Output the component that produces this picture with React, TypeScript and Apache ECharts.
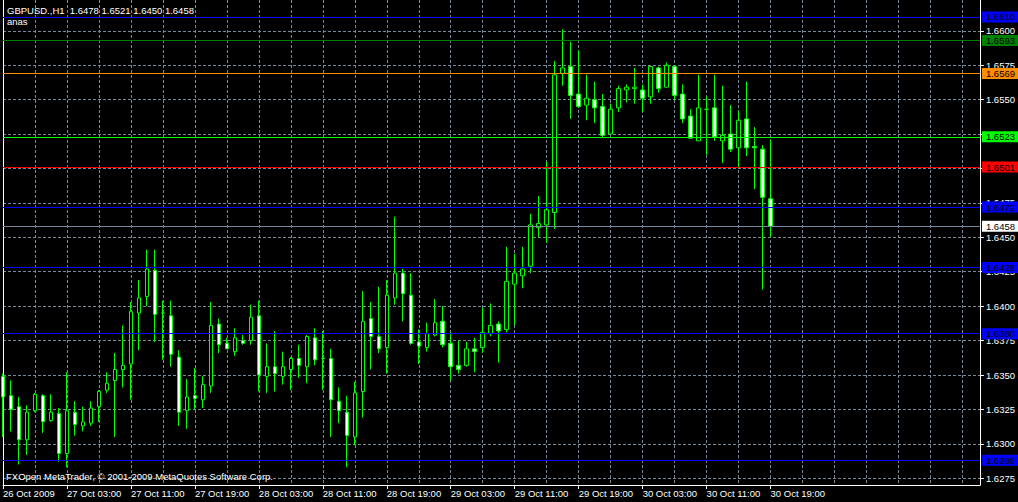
import React, { useEffect, useRef } from "react";
import * as echarts from "echarts";

// ---- data (GBPUSD H1, 26 Oct 2009 19:00 .. 30 Oct 2009 19:00) ----
const opens = [
  1.6349, 1.6335, 1.6327, 1.6303, 1.6324, 1.6335, 1.6317, 1.6322, 1.6293, 1.6323,
  1.6313, 1.6315, 1.6327, 1.6339, 1.6346, 1.6354, 1.6358, 1.6395, 1.6407, 1.6426,
  1.6395, 1.6393, 1.6363, 1.6324, 1.6335, 1.6332, 1.6342, 1.6387, 1.6373, 1.6367,
  1.6375, 1.6375, 1.6393, 1.6349, 1.6356, 1.6349, 1.6354, 1.6362, 1.6356, 1.6377,
  1.6362, 1.6362, 1.6331, 1.6323, 1.6305, 1.6338, 1.6391, 1.6378, 1.6370, 1.6406,
  1.6424, 1.6408, 1.6374, 1.6370, 1.6379, 1.6389, 1.6373, 1.6357, 1.6357, 1.6369,
  1.6370, 1.6380, 1.6387, 1.6383, 1.6416, 1.6422, 1.6429, 1.6457, 1.6459, 1.6468,
  1.6569, 1.6574, 1.6554, 1.6546, 1.6550, 1.6545, 1.6525, 1.6544, 1.6557, 1.6558,
  1.6557, 1.6552, 1.6573, 1.6559, 1.6574, 1.6554, 1.6538, 1.6520, 1.6543, 1.6544,
  1.6520, 1.6525, 1.6515, 1.6536, 1.6516, 1.6514, 1.6478,
];
const highs = [
  1.6351, 1.6346, 1.6334, 1.6328, 1.6337, 1.6336, 1.6336, 1.6326, 1.6352, 1.6331,
  1.6327, 1.6331, 1.6339, 1.6352, 1.6366, 1.6386, 1.6403, 1.6419, 1.6441, 1.6441,
  1.6404, 1.6404, 1.6368, 1.6347, 1.6355, 1.6349, 1.6403, 1.6391, 1.6377, 1.6384,
  1.6379, 1.6401, 1.6404, 1.6373, 1.6382, 1.6367, 1.6363, 1.6372, 1.6379, 1.6384,
  1.6382, 1.6369, 1.6341, 1.6335, 1.6345, 1.6411, 1.6403, 1.6414, 1.6419, 1.6465,
  1.6427, 1.6424, 1.6383, 1.6388, 1.6405, 1.6400, 1.6381, 1.6375, 1.6374, 1.6377,
  1.6399, 1.6402, 1.6389, 1.6443, 1.6438, 1.6443, 1.6467, 1.6480, 1.6505, 1.6578,
  1.6601, 1.6592, 1.6586, 1.6568, 1.6563, 1.6554, 1.6547, 1.6560, 1.6561, 1.6573,
  1.6561, 1.6574, 1.6574, 1.6577, 1.6575, 1.6561, 1.6543, 1.6568, 1.6552, 1.6568,
  1.6560, 1.6546, 1.6542, 1.6563, 1.6530, 1.6517, 1.6521,
];
const lows = [
  1.6305, 1.6309, 1.6285, 1.6292, 1.6323, 1.6308, 1.6316, 1.6287, 1.6283, 1.6306,
  1.6309, 1.6313, 1.6316, 1.6337, 1.6305, 1.6341, 1.6332, 1.6368, 1.6400, 1.6374,
  1.6361, 1.6356, 1.6313, 1.6311, 1.6325, 1.6326, 1.6337, 1.6366, 1.6369, 1.6364,
  1.6372, 1.6372, 1.6338, 1.6337, 1.6338, 1.6343, 1.6339, 1.6348, 1.6344, 1.6357,
  1.6339, 1.6305, 1.6315, 1.6283, 1.6299, 1.6319, 1.6354, 1.6366, 1.6351, 1.6401,
  1.6389, 1.6372, 1.6358, 1.6367, 1.6378, 1.6370, 1.6346, 1.6351, 1.6356, 1.6352,
  1.6366, 1.6378, 1.6359, 1.6381, 1.6386, 1.6413, 1.6424, 1.6450, 1.6446, 1.6456,
  1.6560, 1.6536, 1.6544, 1.6535, 1.6533, 1.6522, 1.6525, 1.6541, 1.6548, 1.6547,
  1.6541, 1.6547, 1.6555, 1.6559, 1.6550, 1.6533, 1.6522, 1.6520, 1.6510, 1.6520,
  1.6504, 1.6512, 1.6501, 1.6509, 1.6485, 1.6412, 1.6450,
];
const closes = [
  1.6334, 1.6325, 1.6303, 1.6323, 1.6336, 1.6316, 1.6323, 1.6293, 1.6324, 1.6314,
  1.6316, 1.6326, 1.6338, 1.6344, 1.6354, 1.6357, 1.6396, 1.6406, 1.6427, 1.6394,
  1.6395, 1.6365, 1.6323, 1.6334, 1.6333, 1.6343, 1.6386, 1.6372, 1.6369, 1.6377,
  1.6373, 1.6392, 1.6350, 1.6356, 1.6351, 1.6356, 1.6362, 1.6357, 1.6378, 1.6361,
  1.6362, 1.6332, 1.6324, 1.6306, 1.6337, 1.6389, 1.6378, 1.6369, 1.6408, 1.6424,
  1.6409, 1.6373, 1.6371, 1.6380, 1.6388, 1.6372, 1.6356, 1.6354, 1.6369, 1.6367,
  1.6381, 1.6386, 1.6382, 1.6418, 1.6424, 1.6427, 1.6459, 1.6460, 1.6470, 1.6568,
  1.6573, 1.6553, 1.6545, 1.6551, 1.6544, 1.6524, 1.6543, 1.6558, 1.6559, 1.6559,
  1.6551, 1.6574, 1.6558, 1.6575, 1.6553, 1.6536, 1.6522, 1.6544, 1.6543, 1.6523,
  1.6524, 1.6514, 1.6535, 1.6515, 1.6515, 1.6479, 1.6458,
];

const xTickIndex = [0, 8, 16, 24, 32, 40, 48, 56, 64, 72, 80, 88, 96];
const xTickLabels = [
  "26 Oct 2009", "27 Oct 03:00", "27 Oct 11:00", "27 Oct 19:00", "28 Oct 03:00",
  "28 Oct 11:00", "28 Oct 19:00", "29 Oct 03:00", "29 Oct 11:00", "29 Oct 19:00",
  "30 Oct 03:00", "30 Oct 11:00", "30 Oct 19:00",
];
const yTicks = [
  1.6275, 1.63, 1.6325, 1.635, 1.6375, 1.64, 1.6425, 1.645, 1.6475, 1.65,
  1.6525, 1.655, 1.6575, 1.66,
];

const levelPrices = [1.661, 1.6593, 1.6569, 1.6523, 1.6501, 1.6472, 1.6458, 1.6428, 1.638, 1.6288];
const levelColors = ["#0000ff", "#008000", "#ff8c00", "#00ff00", "#ff0000", "#0000ff", "#778899", "#0000ff", "#0000ff", "#0000ff"];
const levelBoxColors = ["#0000ff", "#008000", "#ff8c00", "#00ff00", "#ff0000", "#0000ff", "#ffffff", "#0000ff", "#0000ff", "#0000ff"];

const symbolName = "GBPUSD.,H1";
const indicatorName = "anas";
const copyright = "FXOpen MetaTrader, © 2001-2009 MetaQuotes Software Corp.";

const FONT = "'Liberation Sans', Arial, sans-serif";
const FS = 9.5;

export default function App() {
  const ref = useRef<HTMLDivElement>(null);

  useEffect(() => {
    if (!ref.current) return;
    const chart = echarts.init(ref.current, undefined, { renderer: "svg" });
    const last = opens.length - 1;
    const header =
      `${symbolName}  ${opens[last].toFixed(4)} ${highs[last].toFixed(4)} ` +
      `${lows[last].toFixed(4)} ${closes[last].toFixed(4)}`;
    const data = opens.map((o, i) => [i, o, closes[i], lows[i], highs[i]]);
    const XMAX = (980.5 - 3) / 8;
    const YMAX = 1.645 + 237.3 / 13770;
    const YMIN = 1.645 - 247.7 / 13770;
    const grid = { color: "#778899", type: [3, 2] as any, width: 1 };
    const txt = { color: "#ffffff", fontSize: FS, fontFamily: FONT, fontWeight: "normal" as const };

    chart.setOption({
      animation: false,
      backgroundColor: "#000000",
      textStyle: { fontFamily: FONT },
      title: [
        { text: header, left: 7, top: 5, padding: 0, textStyle: txt },
        { text: indicatorName, left: 7, top: 16, padding: 0, textStyle: txt },
        { text: copyright, left: 6, top: 471, padding: 0, textStyle: txt },
      ],
      grid: { left: 3, right: 37.5, top: 0, bottom: 17, containLabel: false },
      xAxis: [
        {
          type: "value",
          min: 0,
          max: XMAX,
          interval: 4,
          position: "bottom",
          axisLine: { show: true, onZero: false, lineStyle: { color: "#ffffff", width: 1 } },
          axisTick: { show: false },
          axisLabel: { show: false },
          splitLine: { show: true, lineStyle: grid },
        },
        {
          type: "value",
          min: 0,
          max: XMAX,
          position: "bottom",
          axisLine: { show: false, onZero: false },
          axisTick: {
            show: true,
            length: 4,
            customValues: xTickIndex,
            lineStyle: { color: "#ffffff" },
          },
          axisLabel: {
            show: true,
            customValues: xTickIndex,
            formatter: (v: number) => {
              const k = xTickIndex.indexOf(Math.round(v));
              return k >= 0 ? xTickLabels[k] : "";
            },
            align: "left",
            margin: 3,
            ...txt,
          },
          splitLine: { show: false },
        },
      ],
      yAxis: [
        {
          type: "value",
          position: "right",
          min: YMIN,
          max: YMAX,
          axisLine: { show: true, onZero: false, lineStyle: { color: "#ffffff", width: 1 } },
          axisTick: { show: true, length: 4, customValues: yTicks, lineStyle: { color: "#ffffff" } },
          axisLabel: {
            show: true,
            customValues: yTicks,
            formatter: (v: number) => v.toFixed(4),
            margin: 6,
            ...txt,
          },
          splitLine: { show: true, lineStyle: grid },
        },
        {
          type: "value",
          position: "left",
          min: YMIN,
          max: YMAX,
          axisLine: { show: true, onZero: false, lineStyle: { color: "#ffffff", width: 1 } },
          axisTick: { show: false },
          axisLabel: { show: false },
          splitLine: { show: false },
        },
      ],
      series: [
        {
          type: "candlestick",
          xAxisIndex: 0,
          yAxisIndex: 0,
          data,
          encode: { x: 0, y: [1, 2, 3, 4] },
          barWidth: 4,
          clip: true,
          itemStyle: {
            color: "#000000",
            color0: "#ffffff",
            borderColor: "#00ff00",
            borderColor0: "#00ff00",
            borderWidth: 1,
          },
          markLine: {
            silent: true,
            precision: 4,
            symbol: ["none", "none"],
            animation: false,
            data: levelPrices.map((p, i) => ({
              yAxis: p,
              lineStyle: { color: levelColors[i], type: "solid", width: 1 },
              label: {
                show: true,
                position: "end",
                distance: 2,
                formatter: () => p.toFixed(4),
                color: "#000000",
                backgroundColor: levelBoxColors[i],
                padding: [1, 8, 0, 4],
                lineHeight: 10,
                fontSize: FS,
                fontFamily: FONT,
              },
            })),
          },
        },
      ],
    });
    return () => chart.dispose();
  }, []);

  return (
    <div
      ref={ref}
      style={{ position: "absolute", left: 0, top: 0, width: 1018, height: 502 }}
    />
  );
}
